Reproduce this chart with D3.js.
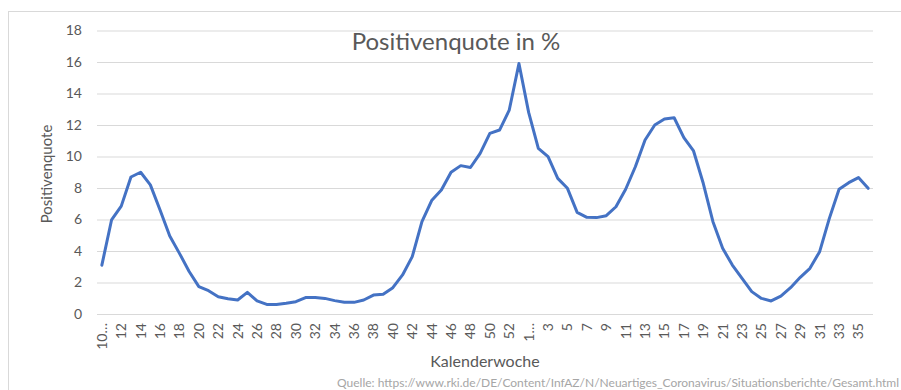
<!DOCTYPE html>
<html>
<head>
<meta charset="utf-8">
<script src="https://cdn.jsdelivr.net/npm/d3@7"></script>
<style>
  html, body { margin: 0; padding: 0; background: #fff; }
  svg { display: block; }
  text { font-family: Lato, "Open Sans", sans-serif; }
</style>
</head>
<body>
<svg id="chart" width="901" height="390"></svg>
<script>
// Kalenderwochen 10/2020 bis 36/2021
const weeks = [
  "10/2020","11","12","13","14","15","16","17","18","19","20","21","22","23","24","25",
  "26","27","28","29","30","31","32","33","34","35","36","37","38","39","40","41",
  "42","43","44","45","46","47","48","49","50","51","52","53",
  "1/2021","2","3","4","5","6","7","8","9","10","11","12","13","14","15","16",
  "17","18","19","20","21","22","23","24","25","26","27","28","29","30","31","32",
  "33","34","35","36"
];

// Positivenquote in % je Kalenderwoche
const positivenquote = [
  3.1, 5.97, 6.85, 8.7, 9.0, 8.2, 6.6, 4.95, 3.85, 2.7, 1.74, 1.48, 1.1, 0.97, 0.89, 1.37,
  0.83, 0.61, 0.61, 0.68, 0.78, 1.04, 1.05, 0.99, 0.85, 0.74, 0.74, 0.89, 1.2, 1.25, 1.67, 2.48,
  3.64, 5.86, 7.2, 7.87, 9.0, 9.42, 9.3, 10.2, 11.47, 11.68, 12.95, 15.9,
  12.8, 10.52, 9.99, 8.61, 7.98, 6.45, 6.14, 6.12, 6.24, 6.81, 7.92, 9.35, 11.05, 12.0, 12.38, 12.46,
  11.2, 10.35, 8.3, 5.86, 4.17, 3.11, 2.26, 1.42, 0.99, 0.83, 1.14, 1.67, 2.33, 2.9, 3.96, 6.07,
  7.92, 8.34, 8.66, 7.98
];

const yTicks = [0, 2, 4, 6, 8, 10, 12, 14, 16, 18];

const svg = d3.select("#chart");
const plot = { left: 97, right: 873, top: 30.5, bottom: 314 };

// chart frame
svg.append("rect")
  .attr("x", 8.5).attr("y", 11.5)
  .attr("width", 920).attr("height", 400)
  .attr("fill", "none").attr("stroke", "#d9d9d9").attr("stroke-width", 1);

// week labels repeat across the two years, so the band scale runs over positions
const x = d3.scaleBand().domain(d3.range(weeks.length)).range([plot.left, plot.right]).padding(0);
const y = d3.scaleLinear().domain([0, 18]).range([plot.bottom, plot.top]);

// horizontal gridlines + y labels
const yAxis = d3.axisLeft(y).tickValues(yTicks).tickSize(-(plot.right - plot.left)).tickPadding(15);
const gy = svg.append("g").attr("transform", `translate(${plot.left},0)`).call(yAxis);
gy.select(".domain").remove();
gy.selectAll(".tick line").attr("stroke", "#d9d9d9").attr("stroke-width", 1);
gy.selectAll(".tick text")
  .attr("fill", "#595959").style("font-size", "14px");

// x axis labels (every second week)
const xAxis = d3.axisBottom(x)
  .tickValues(d3.range(weeks.length).filter(i => i % 2 === 0))
  .tickSize(0)
  .tickFormat(i => weeks[i].includes("/") ? weeks[i].split("/")[0] + "…" : weeks[i]);
const gx = svg.append("g").attr("transform", `translate(0,${plot.bottom})`).call(xAxis);
gx.select(".domain").remove();
gx.selectAll(".tick text")
  .attr("fill", "#595959").style("font-size", "14px")
  .attr("transform", "rotate(-90)")
  .attr("text-anchor", "end")
  .attr("x", -9).attr("y", 0).attr("dy", "0.35em");

// line
const line = d3.line()
  .x((d, i) => x(i) + x.bandwidth() / 2)
  .y(d => y(d));

svg.append("path")
  .datum(positivenquote)
  .attr("d", line)
  .attr("fill", "none")
  .attr("stroke", "#4472c4")
  .attr("stroke-width", 3)
  .attr("stroke-linejoin", "round")
  .attr("stroke-linecap", "round");

// titles
svg.append("text")
  .attr("x", 456).attr("y", 50)
  .attr("text-anchor", "middle")
  .attr("fill", "#595959").style("font-size", "24px")
  .text("Positivenquote in %");

svg.append("text")
  .attr("transform", `translate(52,174) rotate(-90)`)
  .attr("text-anchor", "middle")
  .attr("fill", "#595959").style("font-size", "15px")
  .text("Positivenquote");

svg.append("text")
  .attr("x", (plot.left + plot.right) / 2).attr("y", 367)
  .attr("text-anchor", "middle")
  .attr("fill", "#595959").style("font-size", "16px")
  .text("Kalenderwoche");

svg.append("text")
  .attr("x", 899).attr("y", 387)
  .attr("text-anchor", "end")
  .attr("fill", "#a6a6a6").style("font-size", "12px")
  .text("Quelle: https://www.rki.de/DE/Content/InfAZ/N/Neuartiges_Coronavirus/Situationsberichte/Gesamt.html");
</script>
</body>
</html>
